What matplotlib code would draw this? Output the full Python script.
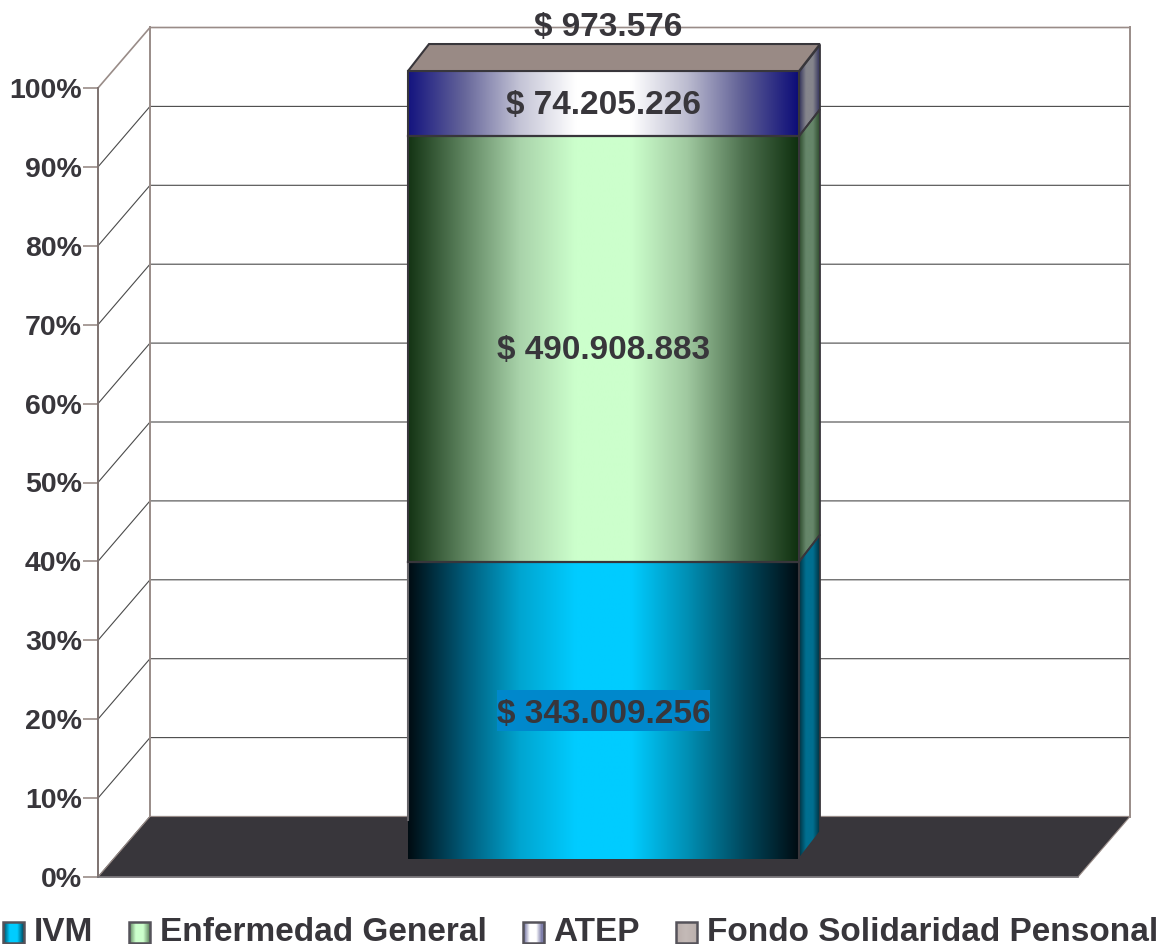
import numpy as np
import matplotlib
matplotlib.use('Agg')
import matplotlib.pyplot as plt
from matplotlib.colors import LinearSegmentedColormap
from matplotlib.legend_handler import HandlerBase
from matplotlib.patches import Patch, Polygon, Rectangle

series_names = ['IVM', 'Enfermedad General', 'ATEP', 'Fondo Solidaridad Pensonal']
series_values = [343009256, 490908883, 74205226, 973576]
value_labels = ['$ 343.009.256', '$ 490.908.883', '$ 74.205.226', '$ 973.576']
tick_values = [0, 10, 20, 30, 40, 50, 60, 70, 80, 90, 100]
tick_labels = ['0%', '10%', '20%', '30%', '40%', '50%', '60%', '70%', '80%', '90%', '100%']

front_colors = [
    ['#000c12', '#005a78', '#00a5d0', '#00ccff', '#00ccff', '#0090b5', '#004a60', '#000c12'],
    ['#143414', '#5f8560', '#a9d3aa', '#ccffcc', '#ccffcc', '#a0c9a0', '#4f7250', '#0f300f'],
    ['#14147f', '#66669a', '#c4c4d6', '#ffffff', '#ffffff', '#bcbcd0', '#5f5f95', '#0c0c78'],
]
side_colors = [
    ['#00303f', '#006f90', '#006f90', '#00303f'],
    ['#2c4a2c', '#66866a', '#66866a', '#2c4a2c'],
    ['#30305a', '#85858c', '#85858c', '#30305a'],
]
swatch_colors = [
    ['#004a60', '#00ccff', '#00ccff', '#004a60'],
    ['#5f8560', '#ccffcc', '#ccffcc', '#5f8560'],
    ['#66669a', '#ffffff', '#ffffff', '#66669a'],
    ['#b9aeab', '#c4bab7', '#b9aeab'],
]
top_color = '#998a85'
dark = '#38363b'
wall_color = '#998c88'

PX = 7.89  # pixels per percent
WALL_DX, WALL_DY = 52, 60.5 / PX
BAR_DX, BAR_DY = 21, 27 / PX
BAR_LEFT, BAR_RIGHT = 408, 799
BAR_BASE, BAR_SCALE = 18 / PX, 0.9987
FONT = 'Liberation Sans'


def gradient(colors):
    cmap = LinearSegmentedColormap.from_list('g', colors)
    return cmap(np.linspace(0, 1, 256))[np.newaxis, :, :]


class GradientHandler(HandlerBase):
    def create_artists(self, legend, orig_handle, xdescent, ydescent, width, height, fontsize, trans):
        colors = orig_handle.swatch
        rgba = gradient(colors)[0]
        n = 20
        out = []
        for i in range(n):
            out.append(Rectangle((xdescent + i * width / n, ydescent), width / n + 0.3, height,
                                 facecolor=rgba[int(i * 255 / (n - 1))], edgecolor='none', transform=trans))
        out.append(Rectangle((xdescent, ydescent), width, height, facecolor='none',
                             edgecolor='#55535a', linewidth=1.8, transform=trans))
        return out


def draw_walls(ax):
    for p in tick_values:
        ax.plot([98, 98 + WALL_DX, 1078 + WALL_DX], [p, p + WALL_DY, p + WALL_DY],
                color='#4a4a4a' if p < 100 else wall_color, lw=0.8 if p < 100 else 1.2,
                clip_on=False, zorder=1)
    ax.plot([98 + WALL_DX] * 2, [WALL_DY, 100 + WALL_DY], color=wall_color, lw=1.4, clip_on=False, zorder=1)
    ax.plot([1078 + WALL_DX] * 2, [WALL_DY, 100 + WALL_DY], color=wall_color, lw=1.4, clip_on=False, zorder=1)
    ax.add_patch(Polygon([(98, 0), (1078, 0), (1078 + WALL_DX, WALL_DY), (98 + WALL_DX, WALL_DY)],
                         facecolor=dark, edgecolor=wall_color, lw=0.8, clip_on=False, zorder=2))


def draw_bar(ax):
    shares = 100 * np.array(series_values) / sum(series_values)
    bottoms = np.concatenate([[0], np.cumsum(shares)])
    to_y = lambda p: BAR_BASE + BAR_SCALE * p

    for i in range(3):
        y0, y1 = to_y(bottoms[i]), to_y(bottoms[i + 1])
        ax.imshow(gradient(front_colors[i]), extent=[BAR_LEFT, BAR_RIGHT, y0, y1],
                  aspect='auto', clip_on=False, zorder=3, interpolation='bilinear')
        if i > 0:
            ax.plot([BAR_LEFT, BAR_RIGHT], [y0, y0], color=dark, lw=1.6, clip_on=False, zorder=5)
        # side face
        poly = Polygon([(BAR_RIGHT, y0), (BAR_RIGHT + BAR_DX, y0 + BAR_DY),
                        (BAR_RIGHT + BAR_DX, y1 + BAR_DY), (BAR_RIGHT, y1)],
                       facecolor='none', edgecolor=dark, lw=1.3, clip_on=False, zorder=5)
        ax.add_patch(poly)
        im = ax.imshow(gradient(side_colors[i]), extent=[BAR_RIGHT, BAR_RIGHT + BAR_DX, y0, y1 + BAR_DY],
                       aspect='auto', zorder=4, interpolation='bilinear')
        im.set_clip_box(ax.figure.bbox)
        im.set_clip_path(poly)

    # outline of the front and the top face
    y_top = to_y(bottoms[4])
    ax.plot([BAR_LEFT, BAR_LEFT], [to_y(5), to_y(bottoms[1])], color='#666469', lw=1.5, clip_on=False, zorder=5)
    ax.plot([BAR_LEFT, BAR_LEFT], [to_y(bottoms[1]), y_top], color=dark, lw=1.5, clip_on=False, zorder=5)
    ax.plot([BAR_RIGHT, BAR_RIGHT], [to_y(0), y_top], color=dark, lw=1.5, clip_on=False, zorder=5)
    ax.add_patch(Polygon([(BAR_LEFT, y_top), (BAR_RIGHT, y_top), (BAR_RIGHT + BAR_DX, y_top + BAR_DY),
                          (BAR_LEFT + BAR_DX, y_top + BAR_DY)],
                         facecolor=top_color, edgecolor=dark, lw=1.5, clip_on=False, zorder=5))

    center = (BAR_LEFT + BAR_RIGHT) / 2
    for i in range(3):
        y = to_y((bottoms[i] + bottoms[i + 1]) / 2)
        if i == 0:
            ax.add_patch(Rectangle((center - 107, y - 20.5 / PX), 213, 41 / PX, facecolor='#0088cc',
                                   edgecolor='none', clip_on=False, zorder=5.5))
            y -= 1 / PX
        else:
            y += 2 / PX
        ax.text(center, y, value_labels[i], ha='center', va='center_baseline', fontsize=24, fontweight='bold',
                family=FONT, color=dark, zorder=6, clip_on=False)
    ax.text(center + 5, y_top + BAR_DY + 2.5, value_labels[3], ha='center', va='center_baseline', fontsize=24,
            fontweight='bold', family=FONT, color=dark, zorder=6, clip_on=False)


def main():
    fig = plt.figure(figsize=(11.61, 9.44), dpi=100, facecolor='white')
    ax = fig.add_axes([98 / 1161, (944 - 877) / 944, 980 / 1161, 789 / 944])
    ax.patch.set_visible(False)

    draw_walls(ax)
    draw_bar(ax)

    ax.set_xlim(98, 1078)
    ax.set_ylim(0, 100)
    ax.set_xticks([])
    ax.set_yticks(tick_values)
    ax.set_yticklabels(tick_labels, fontsize=20.5, fontweight='bold', family=FONT, color=dark)
    ax.tick_params(axis='y', length=11, width=1.2, color=wall_color, pad=0.6)
    ax.spines['top'].set_visible(False)
    ax.spines['right'].set_visible(False)
    ax.spines['left'].set_color('#7d7270')
    ax.spines['left'].set_linewidth(1.4)
    ax.spines['bottom'].set_color('#77757a')
    ax.spines['bottom'].set_linewidth(1.2)
    ax.spines['bottom'].set_zorder(3)

    handles = []
    for name, colors in zip(series_names, swatch_colors):
        h = Patch(label=name)
        h.swatch = colors
        handles.append(h)
    fig.legend(handles=handles, loc='center', bbox_to_anchor=(580.5 / 1161, (944 - 932.5) / 944), ncol=4,
               frameon=False, handler_map={Patch: GradientHandler()}, handlelength=0.63, handleheight=0.57,
               handletextpad=0.3, columnspacing=1.07,
               prop={'family': FONT, 'weight': 'bold', 'size': 24}, labelcolor=dark,
               borderpad=0, borderaxespad=0)

    fig.savefig('out.png', dpi=100, facecolor='white')


if __name__ == '__main__':
    main()
